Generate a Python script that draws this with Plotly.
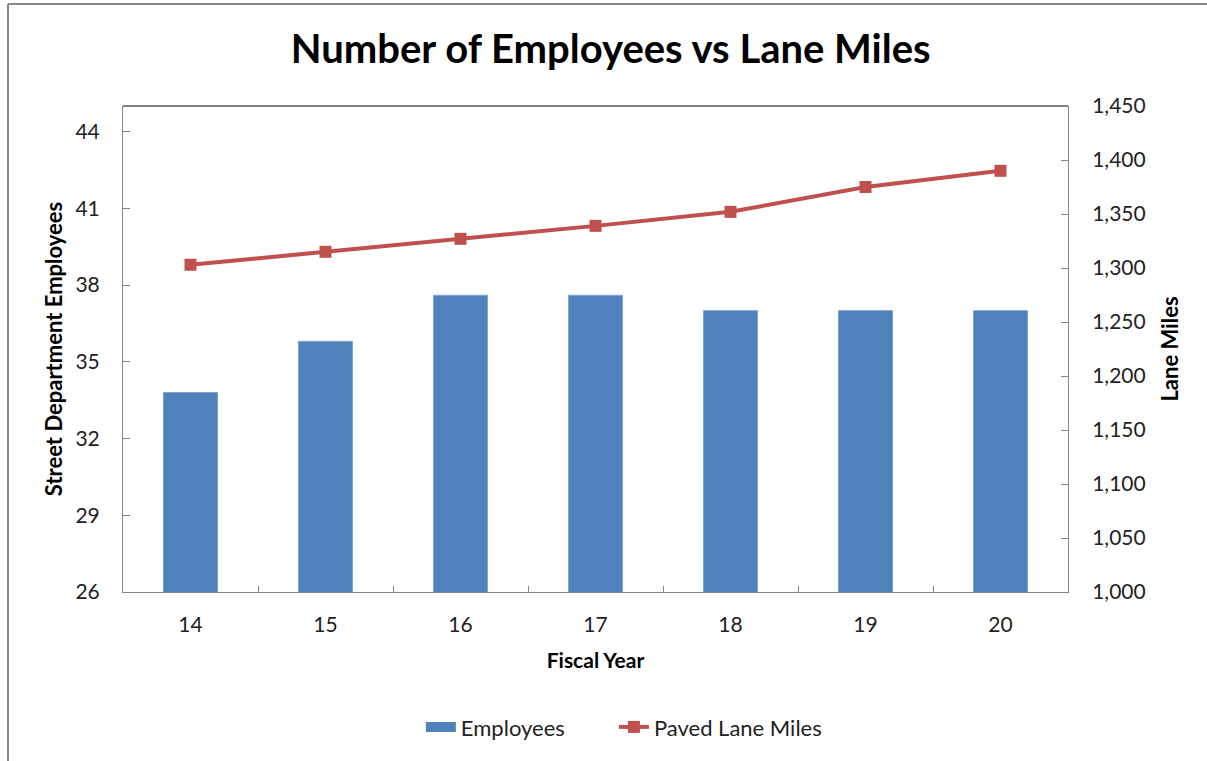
import plotly.graph_objects as go

years = ["14", "15", "16", "17", "18", "19", "20"]
employees = [33.8, 35.8, 37.6, 37.6, 37.0, 37.0, 37.0]
lane_miles = [1303, 1315, 1327, 1339, 1352, 1375, 1390]

left_ticks = [26, 29, 32, 35, 38, 41, 44]
right_ticks = [1000, 1050, 1100, 1150, 1200, 1250, 1300, 1350, 1400, 1450]

FONT = "Lato"
AX = "#868686"
BLUE = "#4F81BD"
RED = "#C0504D"

fig = go.Figure()
fig.add_trace(go.Bar(
    x=years, y=employees, name="Employees", showlegend=False,
    marker=dict(color=BLUE, line=dict(color="#7FA3D1", width=1)),
    width=0.4, yaxis="y",
))
# legend entry drawn as a wide rectangle, like the original
fig.add_trace(go.Scatter(
    x=[None], y=[None], name="Employees", mode="lines",
    line=dict(color=BLUE, width=14), yaxis="y", legend="legend",
))
fig.add_trace(go.Scatter(
    x=years, y=lane_miles, name="Paved Lane Miles", mode="lines+markers",
    line=dict(color=RED, width=4),
    marker=dict(symbol="square", size=12, color=RED),
    yaxis="y2", legend="legend2",
))

leg_common = dict(orientation="h", yanchor="middle", y=-0.278, xanchor="left",
                  font=dict(size=22, color="#222222"))

fig.update_layout(
    width=1207, height=761,
    margin=dict(l=123, r=139, t=106, b=169),
    paper_bgcolor="white", plot_bgcolor="white",
    font=dict(family=FONT, color="#000000", size=21),
    title=dict(text="<b>Number of Employees vs Lane Miles</b>",
               x=0.506, xanchor="center", y=0.935, yanchor="middle",
               font=dict(family=FONT, size=40, color="#000000")),
    xaxis=dict(
        showgrid=False, showline=True, linecolor=AX, linewidth=1,
        ticks="inside", tickson="boundaries", ticklen=6, tickcolor=AX,
        ticklabelstandoff=14,
        tickfont=dict(size=21, color="#222222"),
        title=dict(text="<b>Fiscal Year</b>", font=dict(size=21), standoff=18),
    ),
    yaxis=dict(
        range=[26, 45], tickvals=left_ticks, showgrid=False, zeroline=False,
        showline=True, linecolor=AX, linewidth=1,
        ticks="inside", ticklen=7, tickcolor=AX,
        ticklabelstandoff=18,
        tickfont=dict(size=21, color="#222222"),
        title=dict(text="<b>Street Department Employees</b>", font=dict(size=22), standoff=6),
    ),
    yaxis2=dict(
        range=[1000, 1450], tickvals=right_ticks, tickformat=",", overlaying="y",
        side="right", showgrid=False, zeroline=False,
        showline=True, linecolor=AX, linewidth=1,
        ticks="inside", ticklen=7, tickcolor=AX,
        ticklabelstandoff=19,
        tickfont=dict(size=21, color="#222222"),
        title=dict(text="<b>Lane Miles</b>", font=dict(size=22), standoff=17),
    ),
    legend=dict(x=0.3152, **leg_common),
    legend2=dict(x=0.5195, **leg_common),
    bargap=0.6,
    shapes=[
        dict(type="line", xref="paper", yref="paper", x0=0, x1=1, y0=1, y1=1,
             line=dict(color="#000000", width=1)),
        dict(type="line", xref="paper", yref="paper", x0=-0.1217, x1=1.3, y0=1.2099, y1=1.2099,
             line=dict(color="#888888", width=2)),
        dict(type="line", xref="paper", yref="paper", x0=-0.1217, x1=-0.1217, y0=1.2099, y1=-0.4,
             line=dict(color="#888888", width=2)),
    ],
)

fig.write_html("out.html")
